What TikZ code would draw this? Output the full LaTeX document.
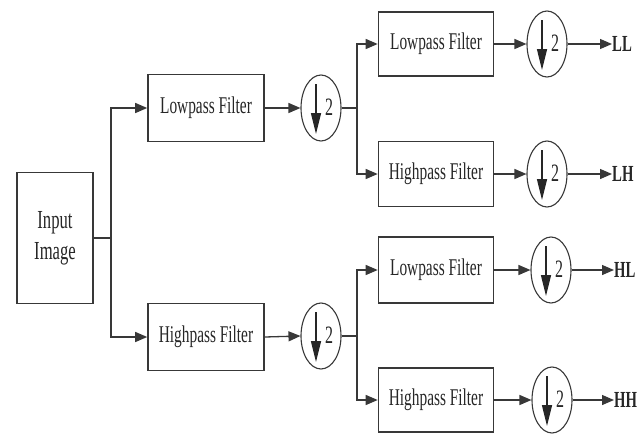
\documentclass[tikz,border=0pt]{standalone}
\usepackage{fontspec}
\setmainfont[FakeStretch=0.64]{Liberation Serif}
\usetikzlibrary{arrows.meta,shapes.geometric}
\definecolor{ln}{gray}{0.22}
\tikzset{
  box/.style={draw=ln, line width=1.6pt, minimum width=116pt, inner sep=0pt, font=\fontsize{24}{28}\selectfont, text=black!85},
  dn/.style={draw=ln, line width=1.1pt, ellipse, minimum width=40pt, minimum height=66pt, inner sep=0pt},
  con/.style={draw=ln, line width=1.3pt, -{Triangle[length=12pt,width=10pt]}},
  wire/.style={draw=ln, line width=1.3pt},
  dnarrow/.style={draw=black!85, line width=1.3pt, -{Triangle[length=21pt,width=10pt]}},
  two/.style={font=\fontsize{25}{28}\selectfont, text=black!85, inner sep=0pt},
  outl/.style={font=\bfseries\fontsize{23}{26}\selectfont, text=black!85, inner sep=0pt}
}
\begin{document}
\begin{tikzpicture}[x=1pt,y=-1pt]
\useasboundingbox (0,0) rectangle (643,434);
% input
\node[box, minimum width=76pt, minimum height=131pt, align=center, font=\fontsize{26}{31}\selectfont] (in) at (55,238) {Input\\Image};
% stage 1
\node[box, minimum height=67pt] (lp1) at (206,108) {Lowpass Filter};
\node[box, minimum height=67pt] (hp1) at (206,337) {Highpass Filter};
\node[dn] (d1) at (321,108) {};
\node[dn] (d2) at (321,336) {};
\coordinate (j0) at (111,238);
\coordinate (j1) at (357,108);
\coordinate (j2) at (357,336);
% stage 2
\node[box, minimum width=115pt, minimum height=64pt] (ll) at (436,44) {Lowpass Filter};
\node[box, minimum width=115pt, minimum height=65pt] (lh) at (436,174) {Highpass Filter};
\node[box, minimum width=115pt, minimum height=66pt] (hl) at (436,270) {Lowpass Filter};
\node[box, minimum width=115pt, minimum height=64pt] (hh) at (436,400) {Highpass Filter};
\node[dn] (dll) at (547,44) {};
\node[dn] (dlh) at (547,174) {};
\node[dn] (dhl) at (551,270) {};
\node[dn] (dhh) at (552,400) {};
\node[outl, anchor=west] (oll) at (612,44) {LL};
\node[outl, anchor=west] (olh) at (612,174) {LH};
\node[outl, anchor=west] (ohl) at (614,270) {HL};
\node[outl, anchor=west] (ohh) at (614,400) {HH};
% down-sampling symbols
\foreach \n in {d1,d2,dll,dlh,dhl,dhh}{
  \draw[dnarrow] ([xshift=-5pt,yshift=24pt]\n.center) -- ([xshift=-5pt,yshift=-26pt]\n.center);
  \node[two] at ([xshift=8pt,yshift=1pt]\n.center) {2};
}
% connectors
\draw[wire] (in.east) -- (j0);
\draw[con] (j0) |- (lp1.west);
\draw[con] (j0) |- (hp1.west);
\draw[con] (lp1.east) -- (d1.west);
\draw[con] (hp1.east) -- (d2.west);
\draw[wire] (d1.east) -- (j1);
\draw[wire] (d2.east) -- (j2);
\draw[con] (j1) |- (ll.west);
\draw[con] (j1) |- (lh.west);
\draw[con] (j2) |- (hl.west);
\draw[con] (j2) |- (hh.west);
\draw[con] (ll.east) -- (dll.west);
\draw[con] (lh.east) -- (dlh.west);
\draw[con] (hl.east) -- (dhl.west);
\draw[con] (hh.east) -- (dhh.west);
\draw[con] (dll.east) -- (oll.west);
\draw[con] (dlh.east) -- (olh.west);
\draw[con] (dhl.east) -- (ohl.west);
\draw[con] (dhh.east) -- (ohh.west);
\end{tikzpicture}
\end{document}
